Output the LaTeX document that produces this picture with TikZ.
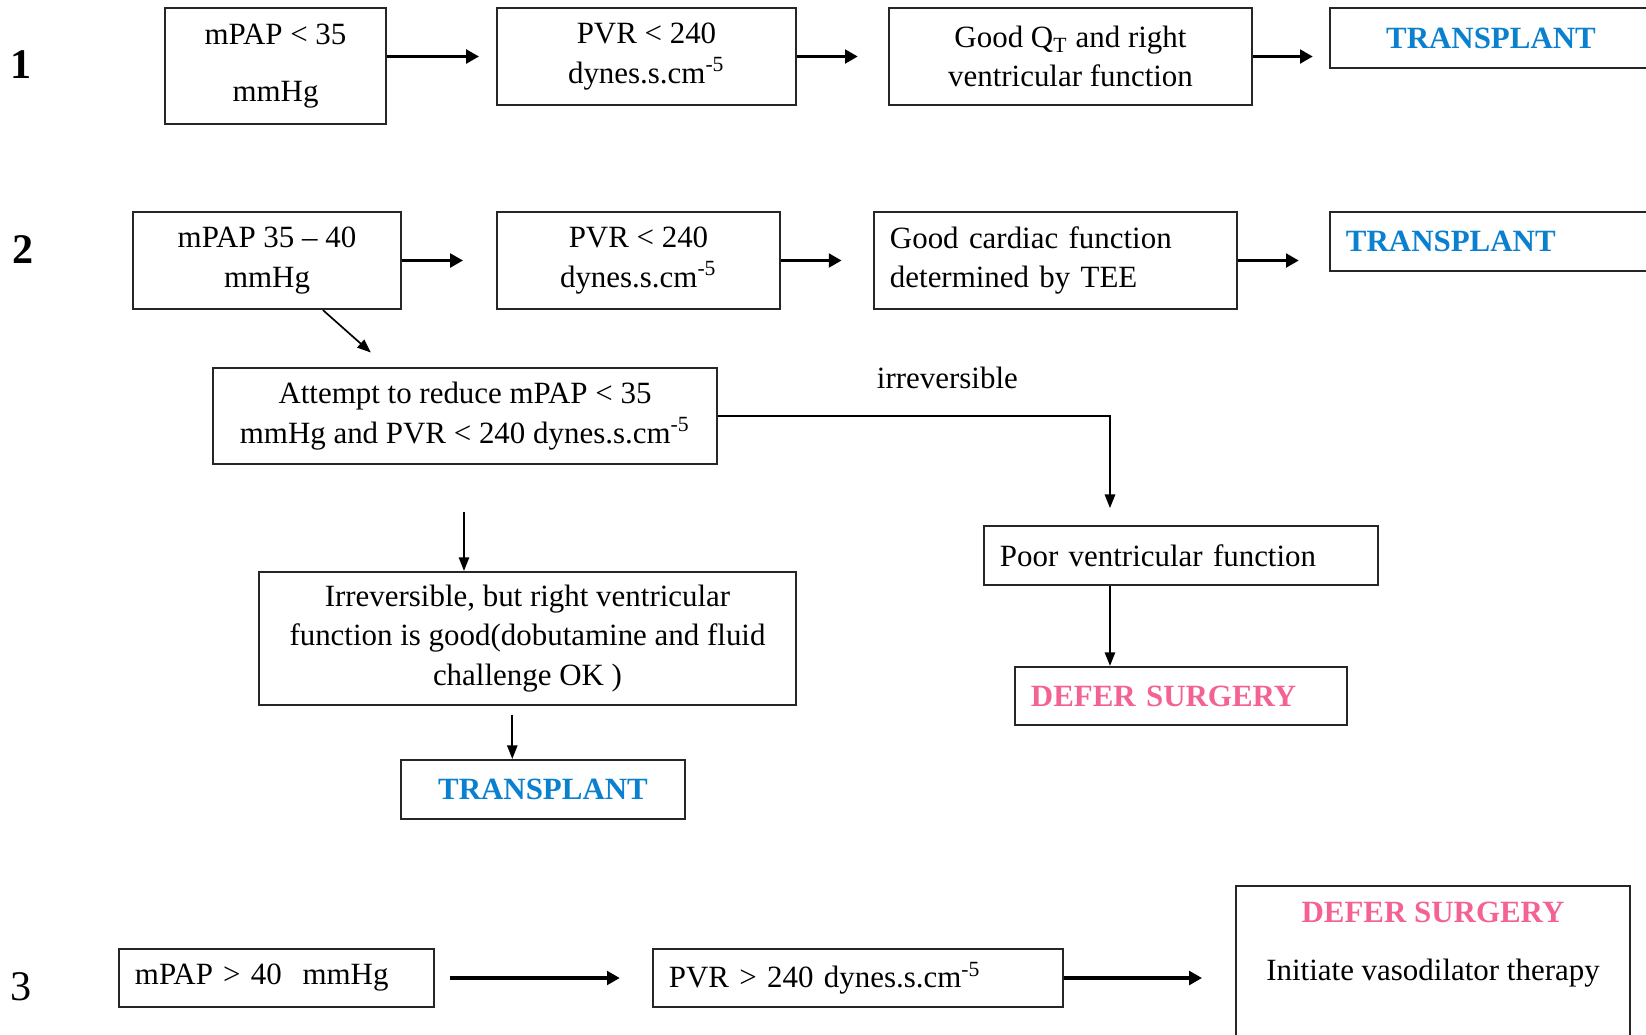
\documentclass[tikz,border=0pt]{standalone}
\usepackage{fontspec}
\setmainfont{Liberation Serif}
\usepackage{tikz}
\usetikzlibrary{arrows.meta,positioning,calc}
\definecolor{tpblue}{RGB}{10,128,206}
\definecolor{deferpink}{RGB}{244,98,148}
\tikzset{
  cbox/.style={draw=black!85,line width=0.8pt,inner xsep=0.2cm,inner ysep=0.08cm,align=center,
    font=\fontsize{11}{14}\selectfont},
  cboxl/.style={cbox,align=left},
  tbox/.style={cbox,font=\fontsize{11}{14}\selectfont\bfseries,text=tpblue},
  tboxl/.style={tbox,align=left},
  dboxl/.style={cbox,align=left,font=\fontsize{11}{14}\selectfont\bfseries,text=deferpink},
  flow/.style={-{Triangle[length=1.6mm,width=1.7mm]},line width=1.1pt},
  thinflow/.style={-{Triangle[length=1.7mm,width=1.3mm]},line width=0.6pt},
  rowlabel/.style={font=\fontsize{15}{18}\selectfont\bfseries,inner sep=0pt},
  irrlabel/.style={font=\fontsize{11}{14}\selectfont,inner sep=0pt}
}

\begin{document}
\begin{tikzpicture}[x=0.0125cm,y=-0.0125cm]
  \useasboundingbox (0,0) rectangle (1646,1034);
  \clip (0,0) rectangle (1646,1034);
  % row 1
  \node[rowlabel] (r1) at (21,65) {1};
  \node[cbox,minimum width=2.7625cm,minimum height=1.45cm] (a1) at (275.5,66) {mPAP < 35\\[6pt]mmHg};
  \node[cbox,minimum width=3.7375cm,minimum height=1.2125cm] (b1) at (646.5,56.5) {PVR < 240\\dynes.s.cm\textsuperscript{-5}};
  \node[cbox,minimum width=4.5375cm,minimum height=1.2125cm] (c1) at (1070.5,56.5) {Good Q\textsubscript{T} and right\\ventricular function};
  \node[tbox,minimum width=4.025cm,minimum height=0.75cm] (d1) at (1491,38) {TRANSPLANT};
  \draw[flow,shorten >=0.21cm] (a1.east |- b1.west) -- (b1.west);
  \draw[flow,shorten >=0.375cm] (b1) -- (c1);
  \draw[flow,shorten >=0.2cm] (c1.east) -- (c1.east -| d1.west);
  % row 2
  \node[rowlabel] (r2) at (23,250) {2};
  \node[cbox,minimum width=3.35cm,minimum height=1.2125cm] (a2) at (267,260.5) {mPAP 35 -- 40\\mmHg};
  \node[cbox,minimum width=3.5375cm,minimum height=1.2125cm] (b2) at (638.5,260.5) {PVR < 240\\dynes.s.cm\textsuperscript{-5}};
  \node[cboxl,text width=4.1375cm,minimum height=1.2125cm] (c2) at (1055.5,260.5) {Good cardiac function\\determined by TEE};
  \node[tboxl,text width=3.625cm,minimum height=0.7375cm] (d2) at (1491,241.5) {TRANSPLANT};
  \draw[flow,shorten >=0.41cm] (a2) -- (b2);
  \draw[flow,shorten >=0.39cm] (b2) -- (c2);
  \draw[flow,shorten >=0.375cm] (c2.east) -- (c2.east -| d2.west);
  \node[cbox,minimum width=6.3cm,minimum height=1.2cm] (att) at (465,416) {Attempt to reduce mPAP < 35\\mmHg and PVR < 240 dynes.s.cm\textsuperscript{-5}};
  \draw[thinflow,shorten >=0.27cm] ([xshift=0.7cm]a2.south) -- ([xshift=-0.975cm]att.north);
  \node[cboxl,text width=4.525cm,minimum height=0.7375cm] (poor) at (1181,555.5) {Poor ventricular function};
  \node[dboxl,text width=3.75cm,minimum height=0.725cm] (defer2) at (1181,696) {DEFER SURGERY};
  \coordinate (pcol) at ([xshift=-0.8875cm]poor.north);
  \draw[thinflow,shorten >=0.21cm] (att.east) -- node[irrlabel,pos=0.585,above=0.33cm] (irrev) {irreversible} (pcol |- att.east) -- (pcol);
  \draw[thinflow] (pcol |- poor.south) -- (pcol |- defer2.north);
  \node[cbox,minimum width=6.7125cm,minimum height=1.6625cm] (irr) at (527.5,638.5) {Irreversible, but right ventricular\\function is good(dobutamine and fluid\\challenge OK )};
  \coordinate (gap) at ([xshift=-0.0125cm,yshift=-0.5875cm]att.south);
  \draw[thinflow] (gap) -- (gap |- irr.north);
  \node[tbox,minimum width=3.55cm,minimum height=0.7375cm] (tp2) at (543,789.5) {TRANSPLANT};
  \coordinate (icol) at ([xshift=-0.19cm]irr.south);
  \draw[thinflow,shorten <=0.11cm] (icol) -- (icol |- tp2.north);
  % row 3
  \node[rowlabel,font=\fontsize{15}{18}\selectfont] (r3) at (21,987) {3};
  \node[cboxl,text width=3.5375cm,minimum height=0.725cm] (a3) at (276.5,978) {mPAP > 40~~mmHg};
  \node[cboxl,text width=4.725cm,minimum height=0.725cm] (b3) at (858,978) {PVR > 240 dynes.s.cm\textsuperscript{-5}};
  \node[cbox,anchor=north,minimum width=4.925cm,inner ysep=0.2cm] (defer3) at (1433,885)
    {{\fontsize{11}{14}\selectfont\bfseries\color{deferpink}DEFER SURGERY}\\[6.6pt]Initiate vasodilator therapy\\[2cm]\mbox{}};
  \draw[flow,shorten <=0.19cm,shorten >=0.4cm] (a3) -- (b3);
  \draw[flow,shorten >=0.41cm] (b3.east) -- (b3.east -| defer3.west);
\end{tikzpicture}
\end{document}
